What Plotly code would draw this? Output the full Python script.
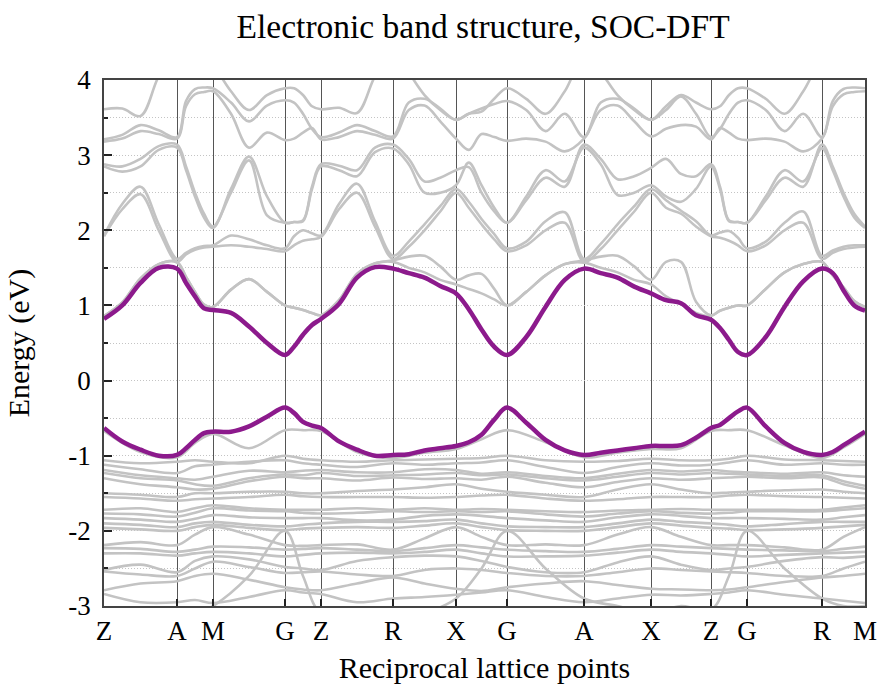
import numpy as np
import plotly.graph_objects as go

# High-symmetry path (cumulative k-distance, arbitrary units)
K_LABELS = ["Z", "A", "M", "G", "Z", "R", "X", "G", "A", "X", "Z", "G", "R", "M"]
K_TICKS = [0.00, 0.73, 1.09, 1.81, 2.17, 2.89, 3.52, 4.03, 4.80, 5.47, 6.07, 6.43, 7.18, 7.61]

# Energy axis ticks
E_TICKS = [-3, -2, -1, 0, 1, 2, 3, 4]
E_LABELS = ["-3", "-2", "-1", "0", "1", "2", "3", "4"]

# Sampling along each segment: quarter points (fine) and half points (coarse)
K_FINE = np.concatenate(
    [np.linspace(a, b, 5)[:-1] for a, b in zip(K_TICKS[:-1], K_TICKS[1:])] + [[K_TICKS[-1]]]
)
K_COARSE = K_FINE[::2]

# Highlighted band edges (eV), sampled on K_FINE
CB_EDGE = [0.82, 1.00, 1.30, 1.50, 1.49, 1.30, 1.12, 0.96, 0.94, 0.90, 0.72, 0.50, 0.34,
           0.45, 0.61, 0.74, 0.82, 1.02, 1.37, 1.51, 1.49, 1.43, 1.37, 1.26, 1.16,
           0.95, 0.68, 0.45, 0.34, 0.58, 0.98, 1.34, 1.49, 1.43, 1.37, 1.25, 1.16,
           1.07, 1.03, 0.87, 0.81, 0.70, 0.54, 0.38, 0.34, 0.58, 0.98, 1.32, 1.49,
           1.43, 1.20, 1.00, 0.93]
VB_EDGE = [-0.63, -0.81, -0.92, -1.00, -0.99, -0.90, -0.79, -0.70, -0.68, -0.68, -0.61, -0.48, -0.36,
           -0.43, -0.55, -0.60, -0.63, -0.81, -0.92, -1.00, -0.99, -0.98, -0.93, -0.90, -0.87,
           -0.82, -0.72, -0.52, -0.36, -0.56, -0.79, -0.93, -0.99, -0.96, -0.93, -0.90, -0.87,
           -0.87, -0.86, -0.76, -0.63, -0.59, -0.50, -0.41, -0.36, -0.61, -0.83, -0.95, -0.99,
           -0.95, -0.86, -0.77, -0.68]

# Other conduction bands (eV), sampled on K_FINE
COND_BANDS = [
    [0.86, 1.04, 1.36, 1.55, 1.57, 1.38, 1.18, 1.01, 0.98, 1.21, 1.35, 1.18, 1.00,
     0.97, 0.94, 0.90, 0.87, 1.07, 1.42, 1.56, 1.58, 1.50, 1.44, 1.34, 1.28,
     1.22, 1.16, 1.08, 1.00, 1.18, 1.40, 1.55, 1.57, 1.50, 1.44, 1.34, 1.28,
     1.12, 1.02, 0.90, 0.86, 0.93, 0.97, 1.00, 1.00, 1.22, 1.44, 1.55, 1.58,
     1.40, 1.24, 1.06, 0.98],
    [0.86, 1.04, 1.36, 1.55, 1.58, 1.38, 1.18, 1.01, 0.98, 1.21, 1.35, 1.18, 1.00,
     0.97, 0.94, 0.90, 0.87, 1.07, 1.42, 1.56, 1.60, 1.65, 1.66, 1.52, 1.34,
     1.40, 1.42, 1.22, 1.00, 1.18, 1.40, 1.55, 1.60, 1.65, 1.66, 1.52, 1.34,
     1.58, 1.58, 1.05, 0.87, 0.93, 0.97, 1.00, 1.00, 1.22, 1.44, 1.55, 1.58,
     1.40, 1.24, 1.06, 0.98],
    [1.92, 2.28, 2.48, 2.00, 1.58, 1.68, 1.74, 1.77, 1.78, 1.80, 1.78, 1.75, 1.72,
     1.80, 1.86, 1.88, 1.91, 2.28, 2.50, 2.05, 1.62, 1.78, 2.00, 2.25, 2.50,
     2.30, 2.08, 1.88, 1.72, 1.80, 2.00, 2.10, 1.58, 1.75, 2.00, 2.25, 2.50,
     2.30, 2.22, 2.05, 1.92, 1.90, 1.86, 1.80, 1.72, 1.80, 2.00, 2.10, 1.62,
     1.70, 1.75, 1.77, 1.78],
    [1.93, 2.35, 2.58, 2.08, 1.62, 1.70, 1.76, 1.79, 1.80, 1.93, 1.88, 1.80, 1.76,
     1.92, 2.00, 1.96, 1.93, 2.35, 2.62, 2.12, 1.66, 1.85, 2.08, 2.32, 2.55,
     2.38, 2.15, 1.95, 1.76, 1.85, 2.12, 2.24, 1.62, 1.82, 2.08, 2.32, 2.55,
     2.40, 2.26, 2.12, 1.93, 1.97, 1.99, 1.90, 1.76, 1.85, 2.10, 2.25, 1.66,
     1.73, 1.78, 1.80, 1.80],
    [2.85, 2.78, 2.85, 3.07, 3.10, 2.80, 2.45, 2.17, 2.03, 2.55, 2.98, 2.45, 2.10,
     2.11, 2.12, 2.55, 2.85, 2.80, 2.72, 3.04, 3.09, 2.88, 2.50, 2.50, 2.60,
     2.90, 2.60, 2.30, 2.10, 2.45, 2.80, 2.65, 3.10, 2.88, 2.47, 2.50, 2.60,
     2.45, 2.38, 2.55, 2.85, 2.55, 2.12, 2.11, 2.10, 2.45, 2.80, 2.65, 3.09,
     2.80, 2.45, 2.17, 2.03],
    [2.88, 2.85, 2.95, 3.12, 3.14, 2.85, 2.50, 2.22, 2.05, 2.50, 2.93, 2.20, 2.10,
     2.11, 2.13, 2.58, 2.88, 2.86, 2.80, 3.10, 3.14, 2.95, 2.65, 2.70, 2.80,
     2.84, 2.50, 2.25, 2.10, 2.40, 2.70, 2.58, 3.14, 2.95, 2.68, 2.72, 2.83,
     2.95, 2.75, 2.72, 2.88, 2.58, 2.13, 2.11, 2.10, 2.40, 2.70, 2.58, 3.14,
     2.85, 2.50, 2.22, 2.05],
    [3.18, 3.22, 3.32, 3.28, 3.22, 3.65, 3.81, 3.84, 3.85, 3.55, 3.10, 3.30, 3.20,
     3.22, 3.30, 3.36, 3.21, 3.24, 3.32, 3.27, 3.22, 3.60, 3.66, 3.45, 3.22,
     3.07, 3.28, 3.24, 3.19, 3.22, 3.18, 3.05, 3.22, 3.60, 3.66, 3.45, 3.25,
     3.35, 3.40, 3.38, 3.21, 3.36, 3.30, 3.22, 3.20, 3.22, 3.18, 3.05, 3.22,
     3.65, 3.81, 3.84, 3.85],
    [3.21, 3.27, 3.40, 3.33, 3.24, 3.72, 3.88, 3.90, 3.89, 3.70, 3.45, 3.66, 3.73,
     3.70, 3.55, 3.35, 3.24, 3.30, 3.40, 3.32, 3.25, 3.70, 3.75, 3.62, 3.47,
     3.55, 3.62, 3.68, 3.72, 3.60, 3.32, 3.55, 3.24, 3.70, 3.75, 3.62, 3.47,
     3.60, 3.78, 3.55, 3.24, 3.35, 3.55, 3.70, 3.73, 3.60, 3.32, 3.55, 3.24,
     3.72, 3.88, 3.90, 3.89],
    [3.61, 3.62, 3.52, 4.05, 4.40, 4.40, 4.40, 4.30, 4.20, 3.85, 3.60, 3.80, 3.89,
     3.89, 3.80, 3.65, 3.61, 3.63, 3.56, 4.05, 4.40, 4.10, 3.80, 3.60, 3.47,
     3.55, 3.58, 3.75, 3.89, 3.75, 3.55, 3.85, 4.30, 4.10, 3.80, 3.60, 3.47,
     3.65, 3.80, 3.70, 3.61, 3.65, 3.80, 3.89, 3.89, 3.75, 3.55, 3.85, 4.30,
     4.40, 4.40, 4.30, 4.20],
]

# Valence manifold (eV), sampled on K_COARSE
VAL_BANDS = [
    [-0.67, -0.95, -1.02, -0.83, -0.71, -0.90, -0.66, -0.66, -0.67, -0.95, -1.03, -0.96, -0.91,
     -0.78, -0.66, -0.82, -1.02, -0.96, -0.91, -0.90, -0.67, -0.66, -0.66, -0.86, -1.03, -0.89, -0.71],
    [-1.06, -1.10, -1.08, -1.06, -1.08, -1.10, -1.00, -1.04, -1.06, -1.08, -1.06, -1.05, -1.04,
     -1.03, -1.00, -1.06, -1.08, -1.07, -1.04, -1.06, -1.06, -1.04, -1.00, -1.05, -1.06, -1.07, -1.08],
    [-1.12, -1.18, -1.23, -1.14, -1.12, -1.08, -1.06, -1.10, -1.12, -1.15, -1.10, -1.12, -1.10,
     -1.09, -1.06, -1.15, -1.23, -1.15, -1.10, -1.13, -1.12, -1.09, -1.06, -1.12, -1.10, -1.12, -1.12],
    [-1.19, -1.26, -1.30, -1.32, -1.28, -1.20, -1.22, -1.20, -1.19, -1.22, -1.22, -1.18, -1.19,
     -1.24, -1.22, -1.27, -1.30, -1.24, -1.19, -1.21, -1.19, -1.21, -1.22, -1.24, -1.22, -1.26, -1.28],
    [-1.23, -1.30, -1.33, -1.38, -1.40, -1.30, -1.25, -1.26, -1.23, -1.27, -1.26, -1.25, -1.23,
     -1.26, -1.25, -1.30, -1.33, -1.28, -1.23, -1.25, -1.23, -1.24, -1.25, -1.27, -1.26, -1.34, -1.40],
    [-1.30, -1.38, -1.42, -1.45, -1.44, -1.34, -1.28, -1.30, -1.30, -1.33, -1.29, -1.31, -1.30,
     -1.32, -1.28, -1.36, -1.42, -1.35, -1.30, -1.32, -1.30, -1.29, -1.28, -1.30, -1.29, -1.38, -1.44],
    [-1.50, -1.52, -1.55, -1.50, -1.50, -1.48, -1.48, -1.50, -1.50, -1.47, -1.45, -1.42, -1.38,
     -1.44, -1.48, -1.52, -1.55, -1.45, -1.38, -1.45, -1.50, -1.49, -1.48, -1.46, -1.45, -1.48, -1.50],
    [-1.55, -1.57, -1.60, -1.58, -1.57, -1.55, -1.52, -1.54, -1.55, -1.55, -1.55, -1.56, -1.55,
     -1.53, -1.52, -1.57, -1.60, -1.58, -1.55, -1.55, -1.55, -1.53, -1.52, -1.54, -1.55, -1.56, -1.57],
    [-1.72, -1.70, -1.75, -1.70, -1.66, -1.70, -1.72, -1.72, -1.72, -1.70, -1.72, -1.70, -1.72,
     -1.71, -1.72, -1.74, -1.75, -1.73, -1.72, -1.71, -1.72, -1.72, -1.72, -1.72, -1.72, -1.69, -1.66],
    [-1.77, -1.78, -1.81, -1.76, -1.70, -1.73, -1.74, -1.76, -1.77, -1.76, -1.74, -1.75, -1.74,
     -1.75, -1.74, -1.78, -1.81, -1.77, -1.74, -1.76, -1.77, -1.76, -1.74, -1.74, -1.74, -1.72, -1.70],
    [-1.83, -1.85, -1.88, -1.84, -1.79, -1.82, -1.83, -1.83, -1.83, -1.86, -1.85, -1.80, -1.78,
     -1.80, -1.83, -1.86, -1.88, -1.82, -1.78, -1.80, -1.83, -1.83, -1.83, -1.84, -1.85, -1.82, -1.79],
    [-1.90, -1.92, -1.95, -1.90, -1.88, -1.92, -1.94, -1.92, -1.90, -1.88, -1.88, -1.87, -1.85,
     -1.90, -1.94, -1.95, -1.95, -1.90, -1.85, -1.88, -1.90, -1.92, -1.94, -1.91, -1.88, -1.88, -1.88],
    [-1.96, -1.98, -2.00, -1.95, -1.92, -1.96, -1.99, -1.97, -1.96, -1.95, -1.96, -1.93, -1.90,
     -1.95, -1.99, -2.00, -2.00, -1.95, -1.90, -1.93, -1.96, -1.97, -1.99, -1.98, -1.96, -1.94, -1.92],
    [-2.19, -2.15, -2.19, -2.05, -1.95, -2.05, -2.19, -2.20, -2.19, -2.18, -2.25, -2.10, -1.95,
     -2.08, -2.19, -2.18, -2.19, -2.05, -1.95, -2.08, -2.19, -2.19, -2.19, -2.22, -2.25, -2.08, -1.95],
    [-2.23, -2.24, -2.28, -2.25, -2.21, -2.22, -2.25, -2.24, -2.23, -2.25, -2.27, -2.23, -2.19,
     -2.22, -2.25, -2.27, -2.28, -2.24, -2.19, -2.21, -2.23, -2.24, -2.25, -2.26, -2.27, -2.24, -2.21],
    [-2.30, -2.30, -2.33, -2.30, -2.28, -2.30, -2.34, -2.32, -2.30, -2.29, -2.30, -2.28, -2.25,
     -2.30, -2.34, -2.34, -2.33, -2.29, -2.25, -2.28, -2.30, -2.32, -2.34, -2.32, -2.30, -2.29, -2.28],
    [-2.52, -2.45, -2.55, -2.40, -2.34, -2.38, -2.48, -2.50, -2.52, -2.40, -2.35, -2.33, -2.34,
     -2.40, -2.48, -2.55, -2.55, -2.42, -2.34, -2.45, -2.52, -2.50, -2.48, -2.40, -2.35, -2.36, -2.34],
    [-2.54, -2.58, -2.60, -2.50, -2.41, -2.48, -2.56, -2.55, -2.54, -2.58, -2.60, -2.52, -2.50,
     -2.52, -2.56, -2.60, -2.60, -2.55, -2.50, -2.52, -2.54, -2.55, -2.56, -2.60, -2.60, -2.50, -2.41],
    [-2.79, -2.70, -2.67, -2.60, -2.57, -2.65, -2.75, -2.78, -2.79, -2.70, -2.62, -2.70, -2.77,
     -2.80, -2.75, -2.70, -2.67, -2.72, -2.77, -2.78, -2.79, -2.78, -2.75, -2.68, -2.62, -2.60, -2.57],
    [-2.84, -2.95, -2.95, -2.92, -2.96, -2.88, -2.79, -2.82, -2.84, -2.95, -2.90, -2.88, -2.85,
     -2.82, -2.79, -2.88, -2.95, -2.90, -2.85, -2.86, -2.84, -2.82, -2.79, -2.85, -2.90, -2.93, -2.96],
    [-3.05, -3.10, -3.10, -3.10, -3.00, -2.60, -2.00, -2.60, -3.10, -3.20, -3.20, -3.10, -2.90,
     -2.50, -2.00, -2.50, -2.90, -3.00, -3.10, -3.00, -3.05, -2.60, -2.00, -2.50, -2.90, -3.00, -3.00],
]

GREY = "#c3c3c3"
PURPLE = "#8c1a8c"
SERIF = "Liberation Serif, Times New Roman, serif"

fig = go.Figure()

for band in VAL_BANDS:
    fig.add_trace(go.Scatter(x=K_COARSE, y=band, mode="lines",
                             line=dict(color=GREY, width=2.6, shape="spline", smoothing=1.0),
                             hoverinfo="skip", showlegend=False))
for band in COND_BANDS:
    fig.add_trace(go.Scatter(x=K_FINE, y=band, mode="lines",
                             line=dict(color=GREY, width=2.6, shape="spline", smoothing=1.0),
                             hoverinfo="skip", showlegend=False))
for band in (CB_EDGE, VB_EDGE):
    fig.add_trace(go.Scatter(x=K_FINE, y=band, mode="lines",
                             line=dict(color=PURPLE, width=4.5, shape="spline", smoothing=1.0),
                             hoverinfo="skip", showlegend=False))

fig.update_layout(
    width=880, height=684,
    margin=dict(l=104, r=15, t=80, b=78),
    paper_bgcolor="white", plot_bgcolor="white",
    font=dict(family=SERIF, size=27, color="black"),
    title=dict(text="Electronic band structure, SOC-DFT", x=0.549, xanchor="center",
               y=0.962, yanchor="middle", font=dict(family=SERIF, size=33.5, color="black")),
    showlegend=False,
)
fig.update_xaxes(
    range=[K_TICKS[0], K_TICKS[-1]],
    tickvals=K_TICKS, ticktext=K_LABELS,
    ticks="inside", ticklen=7, tickwidth=1.5, tickcolor="#222",
    showgrid=True, gridcolor="#555", gridwidth=1,
    showline=True, linecolor="#444", linewidth=1.5, mirror=True,
    zeroline=False, automargin=False,
    title=dict(text="Reciprocal lattice points", standoff=16, font=dict(size=30)),
    tickfont=dict(size=27),
)
fig.update_yaxes(
    range=[-3, 4], tickvals=E_TICKS, ticktext=E_LABELS,
    ticks="inside", ticklen=8, tickwidth=1.5, tickcolor="#222",
    showgrid=True, gridcolor="#c4c4c4", gridwidth=1, griddash="1px,2px",
    minor=dict(dtick=0.5, ticks="inside", ticklen=4, tickcolor="#222",
               showgrid=True, gridcolor="#c4c4c4", griddash="1px,2px"),
    showline=True, linecolor="#444", linewidth=1.5, mirror=True,
    zeroline=False, automargin=False, ticklabelstandoff=6,
    title=dict(text="Energy (eV)", standoff=30, font=dict(size=30)),
    tickfont=dict(size=27),
)

fig.write_html("out.html")
